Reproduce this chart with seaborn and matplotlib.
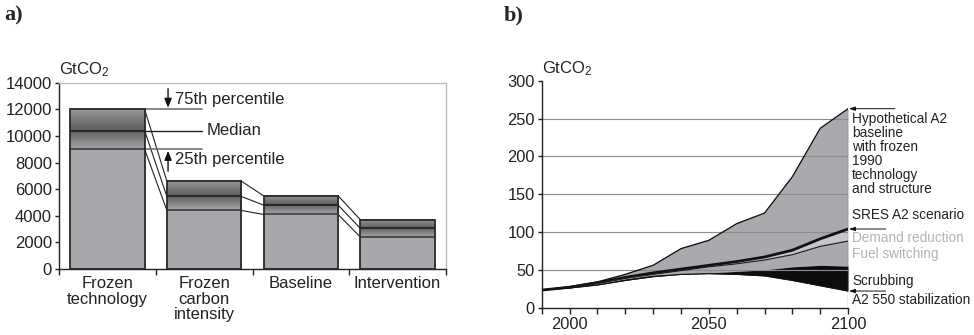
import numpy as np
import matplotlib
matplotlib.use("Agg")
import matplotlib.pyplot as plt
import seaborn as sns
import pandas as pd

# ---------------- data: panel a ----------------
categories = ["Frozen technology", "Frozen carbon intensity", "Baseline", "Intervention"]
cat_labels = ["Frozen\ntechnology", "Frozen\ncarbon\nintensity", "Baseline", "Intervention"]
p75 = [12000, 6600, 5500, 3700]
median = [10400, 5450, 4800, 3050]
p25 = [9000, 4400, 4100, 2400]
a_yticks = [0, 2000, 4000, 6000, 8000, 10000, 12000, 14000]

# ---------------- data: panel b ----------------
years = [1990, 2000, 2010, 2020, 2030, 2040, 2050, 2060, 2070, 2080, 2090, 2100]
frozen_a2 = [23.3, 27.8, 34, 44, 56, 78, 89, 111, 125, 173, 237, 263]
sres_a2 = [23.3, 27, 33, 40, 46, 51, 56, 61, 67, 76, 91, 104]
fuel_line = [23.3, 26.8, 32, 39, 44, 49, 54, 58, 63, 70, 81, 88]
scrub_top = [23.3, 26.5, 31, 38, 43, 45, 46, 48, 50, 54, 56, 55]
stab550 = [23.3, 26, 30, 36, 41, 44, 45, 44, 42, 36, 29, 22]
b_yticks = [0, 50, 100, 150, 200, 250, 300]
b_xlabels = [2000, 2050, 2100]

sns.set_theme(style="white")
plt.rcParams["font.family"] = ["Liberation Sans", "DejaVu Sans"]
plt.rcParams["mathtext.fontset"] = "custom"
plt.rcParams["mathtext.rm"] = "Liberation Sans"
plt.rcParams["mathtext.it"] = "Liberation Sans"

fig = plt.figure(figsize=(9.74, 3.35), dpi=100)
axa = fig.add_axes([0.0606, 0.197, 0.3973, 0.556])
axb = fig.add_axes([0.5562, 0.0815, 0.3145, 0.6776])

BASE = "#a7a8ab"
AFS = 12
BFS = 11.8

# ---------------- panel a ----------------
df_a = pd.DataFrame({"cat": categories, "p75": p75})
sns.barplot(data=df_a, x="cat", y="p75", color=BASE, saturation=1,
            width=0.77, edgecolor="none", linewidth=0, ax=axa, zorder=2)

bars = list(axa.patches)
for i, patch in enumerate(bars):
    x0 = patch.get_x()
    w = patch.get_width()
    hi, md, lo = p75[i], median[i], p25[i]
    ys = np.linspace(hi, lo, 200)
    vals = np.where(ys >= md,
                    0.60 - 0.24 * ((hi - ys) / (hi - md)),
                    0.37 + 0.28 * ((md - ys) / (md - lo)))
    img = np.dstack([vals, vals, vals + 0.01]).reshape(200, 1, 3)
    img = np.clip(img, 0, 1)
    axa.imshow(img, extent=(x0, x0 + w, lo, hi), aspect="auto",
               interpolation="bilinear", zorder=3)
    axa.plot([x0, x0 + w], [md, md], color="#222222", lw=1.3, zorder=4)
    axa.plot([x0, x0 + w], [lo, lo], color="#333333", lw=1.1, zorder=4)
    axa.add_patch(plt.Rectangle((x0, 0), w, hi, fill=False,
                                edgecolor="#2a2a2a", lw=1.3, zorder=5))
    if i < len(bars) - 1:
        nx0 = bars[i + 1].get_x()
        for a, b in [(hi, p75[i + 1]), (md, median[i + 1]), (lo, p25[i + 1])]:
            axa.plot([x0 + w, nx0], [a, b], color="#222222", lw=0.8, zorder=4)

# legend-like percentile labels on first bar
r0 = bars[0].get_x() + bars[0].get_width()
axa.plot([r0, 0.978], [p75[0], p75[0]], color="#666666", lw=1.1, zorder=4, clip_on=False)
axa.plot([r0, 0.978], [median[0], median[0]], color="#222222", lw=1.0, zorder=4, clip_on=False)
axa.plot([r0, 0.978], [p25[0], p25[0]], color="#666666", lw=1.1, zorder=4, clip_on=False)
a_arrow = dict(arrowstyle="-|>,head_width=0.18,head_length=0.45", color="#111111",
               lw=1.0, shrinkA=0, shrinkB=0)
axa.annotate("", xy=(0.627, p75[0] + 120), xytext=(0.627, 13550),
             arrowprops=a_arrow, zorder=6)
axa.annotate("", xy=(0.627, p25[0] - 120), xytext=(0.627, 7350),
             arrowprops=a_arrow, zorder=6)
axa.text(0.70, 12770, "75th percentile", fontsize=AFS, va="center", ha="left", color="#222222")
axa.text(1.03, median[0], "Median", fontsize=AFS, va="center", ha="left", color="#222222")
axa.text(0.70, 8265, "25th percentile", fontsize=AFS, va="center", ha="left", color="#222222")

axa.set_xlim(-0.5, 3.5)
axa.set_ylim(0, 14000)
axa.set_yticks(a_yticks)
axa.set_yticklabels([str(v) for v in a_yticks], fontsize=AFS, color="#222222")
axa.set_xticks(range(len(categories)))
axa.set_xticklabels(cat_labels, fontsize=AFS, color="#222222", linespacing=1.05, va="top")
axa.set_xticks([-0.5, 0.5, 1.5, 2.5, 3.5], minor=True)
axa.tick_params(axis="x", which="major", length=0, pad=5)
axa.tick_params(axis="x", which="minor", length=4, width=1, color="#222222", direction="out", bottom=True)
axa.tick_params(axis="y", length=3, width=1, color="#222222", direction="out", left=True, pad=2)
axa.set_xlabel("")
axa.set_ylabel("")
for s in ["left", "bottom"]:
    axa.spines[s].set_color("#222222")
    axa.spines[s].set_linewidth(1.0)
for s in ["top", "right"]:
    axa.spines[s].set_color("#bbbbbb")
    axa.spines[s].set_linewidth(1.0)
axa.text(0.0, 1.02, "GtCO$_2$", transform=axa.transAxes, fontsize=AFS,
         ha="left", va="bottom", color="#222222")

# ---------------- panel b ----------------
GRAY = "#a9aaad"
LIGHT = "#c6c7c9"
axb.fill_between(years, sres_a2, frozen_a2, color=GRAY, lw=0, zorder=1)
axb.fill_between(years, fuel_line, sres_a2, color=LIGHT, lw=0, zorder=1)
axb.fill_between(years, scrub_top, fuel_line, color=GRAY, lw=0, zorder=1)
axb.fill_between(years, stab550, scrub_top, color="#0d0d0d", lw=0, zorder=1)

for v in b_yticks[1:-1]:
    axb.axhline(v, color="#8c8c8c", lw=0.8, zorder=2)

df_b = pd.DataFrame({"year": years, "frozen": frozen_a2, "a2": sres_a2,
                     "fuel": fuel_line, "stab": stab550})
sns.lineplot(data=df_b, x="year", y="frozen", color="#111111", lw=1.0, ax=axb, zorder=3)
sns.lineplot(data=df_b, x="year", y="a2", color="#111111", lw=2.0, ax=axb, zorder=3)
sns.lineplot(data=df_b, x="year", y="fuel", color="#222222", lw=0.9, ax=axb, zorder=3)
sns.lineplot(data=df_b, x="year", y="stab", color="#111111", lw=0.8, ax=axb, zorder=3)
axb.plot([years[-1], years[-1]], [0, frozen_a2[-1]], color="#666666", lw=0.9, zorder=3)

axb.set_xlim(1990, 2100)
axb.set_ylim(0, 300)
axb.set_yticks(b_yticks)
axb.set_yticklabels([str(v) for v in b_yticks], fontsize=BFS, color="#222222")
axb.set_xticks(b_xlabels)
axb.set_xticklabels([str(v) for v in b_xlabels], fontsize=BFS, color="#222222")
axb.set_xticks(list(range(1990, 2101, 10)), minor=True)
axb.tick_params(axis="x", which="both", length=4, width=1, color="#222222",
                direction="out", bottom=True, pad=3)
axb.tick_params(axis="y", length=3, width=1, color="#222222", direction="out", left=True, pad=2)
axb.set_xlabel("")
axb.set_ylabel("")
sns.despine(ax=axb)
for s in ["left", "bottom"]:
    axb.spines[s].set_color("#222222")
    axb.spines[s].set_linewidth(1.0)
axb.text(0.0, 1.01, "GtCO$_2$", transform=axb.transAxes, fontsize=AFS,
         ha="left", va="bottom", color="#222222")

LBLFS = 9.8
arrow_kw = dict(arrowstyle="-|>,head_width=0.1,head_length=0.3", color="#111111",
                lw=0.7, shrinkA=0, shrinkB=0)
axb.annotate("", xy=(2100.3, frozen_a2[-1]), xytext=(2116.8, frozen_a2[-1]),
             arrowprops=arrow_kw, annotation_clip=False)
axb.annotate("", xy=(2100.3, sres_a2[-1]), xytext=(2113.5, sres_a2[-1]),
             arrowprops=arrow_kw, annotation_clip=False)
axb.annotate("", xy=(2100.3, stab550[-1]), xytext=(2113.5, stab550[-1]),
             arrowprops=arrow_kw, annotation_clip=False)
axb.text(2101.4, 258, "Hypothetical A2\nbaseline\nwith frozen\n1990\ntechnology\nand structure",
         fontsize=LBLFS, va="top", ha="left", linespacing=1.0, color="#222222")
axb.text(2101.4, 122.5, "SRES A2 scenario", fontsize=LBLFS, va="center", ha="left", color="#222222")
axb.text(2101.4, 92, "Demand reduction", fontsize=LBLFS, va="center", ha="left", color="#b4b4b4")
axb.text(2101.4, 71, "Fuel switching", fontsize=LBLFS, va="center", ha="left", color="#b4b4b4")
axb.text(2101.4, 35, "Scrubbing", fontsize=LBLFS, va="center", ha="left", color="#222222")
axb.text(2101.4, 10, "A2 550 stabilization", fontsize=LBLFS, va="center", ha="left", color="#222222")

# panel letters
fig.text(0.004, 0.953, "a)", fontsize=16, fontweight="bold",
         family=["Liberation Serif", "DejaVu Serif"], va="center", ha="left")
fig.text(0.517, 0.953, "b)", fontsize=16, fontweight="bold",
         family=["Liberation Serif", "DejaVu Serif"], va="center", ha="left")

fig.savefig("out.png", dpi=100)
